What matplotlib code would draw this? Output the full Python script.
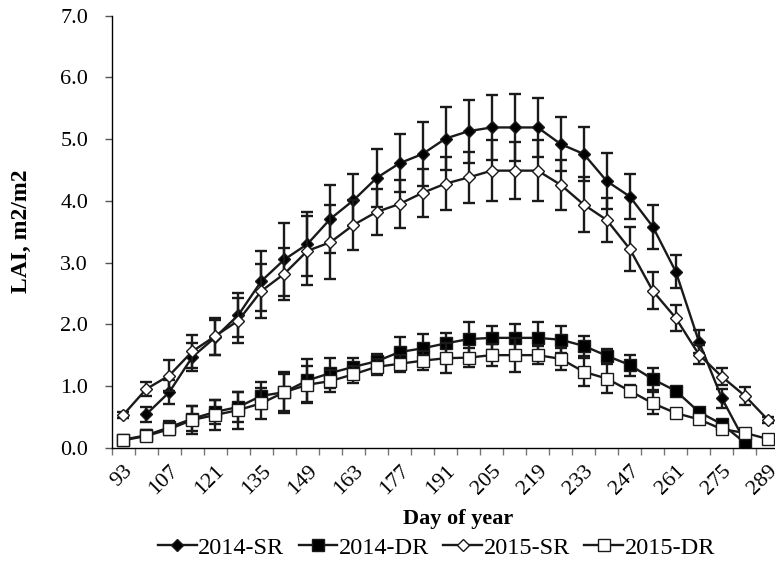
import numpy as np
import matplotlib
matplotlib.use("Agg")
import matplotlib.pyplot as plt

plt.rcParams["font.family"] = ["Liberation Serif", "DejaVu Serif"]

nan = np.nan

# Day of year, one category every 7 days
days = [93, 100, 107, 114, 121, 128, 135, 142, 149, 156, 163, 170, 177, 184, 191,
        198, 205, 212, 219, 226, 233, 240, 247, 254, 261, 268, 275, 282, 289]

sr_2014 = [nan, 0.54, 0.90, 1.47, 1.79, 2.15, 2.70, 3.05, 3.30, 3.71, 4.01, 4.37, 4.61, 4.76, 5.01,
           5.13, 5.19, 5.19, 5.19, 4.92, 4.76, 4.32, 4.07, 3.58, 2.85, 1.72, 0.80, 0.10, nan]
sr_2014_err = [nan, 0.12, 0.19, 0.22, 0.28, 0.35, 0.49, 0.59, 0.52, 0.55, 0.42, 0.47, 0.47, 0.52, 0.51,
               0.51, 0.52, 0.55, 0.48, 0.44, 0.43, 0.45, 0.37, 0.36, 0.27, 0.18, 0.15, 0.05, nan]

dr_2014 = [0.13, 0.20, 0.33, 0.47, 0.58, 0.66, 0.84, 0.90, 1.09, 1.21, 1.31, 1.40, 1.55, 1.61, 1.69,
           1.76, 1.78, 1.78, 1.78, 1.75, 1.65, 1.49, 1.34, 1.11, 0.92, 0.58, 0.38, 0.08, nan]
dr_2014_err = [0.05, 0.08, 0.10, 0.20, 0.20, 0.25, 0.22, 0.30, 0.35, 0.25, 0.15, 0.12, 0.25, 0.24, 0.17,
               0.28, 0.19, 0.23, 0.26, 0.22, 0.16, 0.11, 0.17, 0.18, 0.05, 0.05, 0.05, 0.05, nan]

sr_2015 = [0.53, 0.95, 1.17, 1.56, 1.81, 2.06, 2.54, 2.82, 3.19, 3.33, 3.61, 3.82, 3.95, 4.13, 4.28,
           4.38, 4.49, 4.49, 4.49, 4.26, 3.94, 3.69, 3.22, 2.54, 2.10, 1.51, 1.15, 0.84, 0.45]
sr_2015_err = [0.05, 0.12, 0.25, 0.27, 0.30, 0.37, 0.44, 0.42, 0.56, 0.60, 0.41, 0.37, 0.39, 0.39, 0.43,
               0.42, 0.49, 0.46, 0.49, 0.41, 0.44, 0.36, 0.35, 0.30, 0.21, 0.16, 0.14, 0.14, 0.05]

dr_2015 = [0.12, 0.19, 0.30, 0.45, 0.53, 0.61, 0.72, 0.90, 1.02, 1.08, 1.19, 1.31, 1.36, 1.41, 1.45,
           1.46, 1.50, 1.50, 1.50, 1.44, 1.23, 1.12, 0.92, 0.72, 0.56, 0.46, 0.30, 0.24, 0.14]
dr_2015_err = [0.05, 0.08, 0.10, 0.23, 0.25, 0.30, 0.25, 0.33, 0.30, 0.18, 0.14, 0.13, 0.14, 0.15, 0.24,
               0.15, 0.18, 0.27, 0.15, 0.18, 0.23, 0.23, 0.10, 0.18, 0.07, 0.05, 0.05, 0.07, 0.05]

series = [
    ("2014-SR", sr_2014, sr_2014_err, "D", "black", 6.5),
    ("2014-DR", dr_2014, dr_2014_err, "s", "black", 9),
    ("2015-SR", sr_2015, sr_2015_err, "D", "white", 6.5),
    ("2015-DR", dr_2015, dr_2015_err, "s", "white", 9),
]

fs = 16

fig = plt.figure(figsize=(7.75, 5.63), dpi=100)
ax = fig.add_axes([0.1441, 0.2048, 1.0058 - 0.1441, 0.972 - 0.2048])

x = np.arange(len(days))
handles = []
for k, (label, vals, errs, marker, face, ms) in enumerate(series):
    vals = np.array(vals)
    errs = np.array(errs)
    ax.errorbar(x, vals, yerr=errs, fmt="none", ecolor="#1a1a1a", elinewidth=1.7,
                capsize=4.5, capthick=1.7, zorder=2 + k * 2)
    line, = ax.plot(x, vals, color="#1a1a1a", linewidth=1.7, marker=marker, markersize=ms,
                    markerfacecolor=face, markeredgecolor="#1a1a1a", markeredgewidth=1.0,
                    zorder=3 + k * 2, label=label)
    handles.append(line)

ax.set_xlim(-0.5, len(days) - 0.5)
ax.set_ylim(0, 7)
yt = np.arange(0, 7.5, 1.0)
ax.set_yticks(yt)
ax.set_yticklabels([f"{v:.1f}" for v in yt], fontsize=fs)
ax.tick_params(axis="y", length=5, width=1, color="#555555", pad=12)

# ticks between categories, labels on every second category
ax.set_xticks(np.arange(-0.5, len(days), 1.0))
ax.set_xticklabels([])
ax.tick_params(axis="x", which="major", length=5, width=1, color="#777777")
ax.set_xticks(x[::2], minor=True)
ax.set_xticklabels([str(d) for d in days[::2]], minor=True, rotation=45,
                   ha="right", va="top", rotation_mode="anchor", fontsize=fs)
ax.tick_params(axis="x", which="minor", length=0, pad=10)

for side in ["top", "right"]:
    ax.spines[side].set_visible(False)
ax.spines["left"].set_linewidth(1.0)
ax.spines["bottom"].set_linewidth(1.0)

ax.set_xlabel("Day of year", fontsize=fs, fontweight="bold")
ax.xaxis.set_label_coords(0.519, -0.142)
ax.set_ylabel("LAI, m2/m2", fontsize=17, fontweight="bold", labelpad=20)

fig.legend(handles=handles, loc="center", bbox_to_anchor=(0.563, 0.027), ncol=4,
           frameon=False, fontsize=17.5, handlelength=1.6, handletextpad=0.05,
           columnspacing=0.6)

fig.savefig("out.png", dpi=100)
